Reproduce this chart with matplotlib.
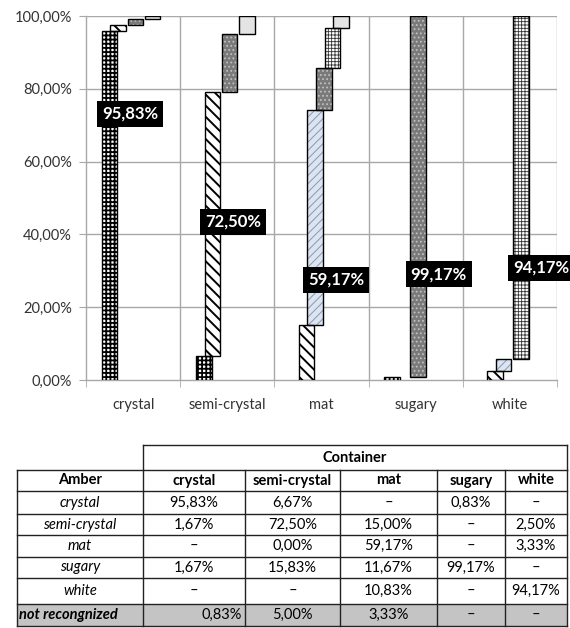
import numpy as np
import matplotlib
matplotlib.use("Agg")
from matplotlib import pyplot as plt

plt.rcParams['font.family'] = ['Lato', 'DejaVu Sans']

# container (columns) and amber classes (rows), values in %
containers = ["crystal", "semi-crystal", "mat", "sugary", "white"]
ambers = ["crystal", "semi-crystal", "mat", "sugary", "white", "not recongnized"]
nan = np.nan
crystal_row = [95.83, 6.67, nan, 0.83, nan]
semi_row = [1.67, 72.50, 15.00, nan, 2.50]
mat_row = [nan, 0.00, 59.17, nan, 3.33]
sugary_row = [1.67, 15.83, 11.67, 99.17, nan]
white_row = [nan, nan, 10.83, nan, 94.17]
notrec_row = [0.83, 5.00, 3.33, nan, nan]
rows = [crystal_row, semi_row, mat_row, sugary_row, white_row, notrec_row]

yticks = [0, 20, 40, 60, 80, 100]
label_y = [73.1, 43.5, 27.5, 29.1, 30.9]  # where the black labels sit

# look of each amber series: face, hatch, hatch colour, hatch lw
styles = [
    ("white", "++++", "black", 1.3),
    ("white", "\\\\\\", "black", 1.4),
    ("#dbe5f1", "////", "#8a97ad", 0.7),
    ("#7a7a7a", "....", "#c0c0c0", 0.8),
    ("white", "+++++", "#333333", 0.6),
    ("#e4e4e4", "", "black", 0.5),
]

W, H = 570, 628
fig = plt.figure(figsize=(W / 100, H / 100), dpi=100)
ax = fig.add_axes([86 / W, (H - 380) / H, 471 / W, 364 / H])

grid_c = "#a8a8a8"
txt_c = "#333333"
step = 0.0913
bw = 0.165

vals = np.nan_to_num(np.array(rows, dtype=float))
bottoms = np.vstack([np.zeros(len(containers)), np.cumsum(vals, axis=0)[:-1]])
xc = np.arange(len(containers)) + 0.5

for j, (face, hatch, hcol, hlw) in enumerate(styles):
    x = xc - 0.021 + (j - 2.5) * step
    h = vals[j]
    m = h > 0
    with plt.rc_context({"hatch.linewidth": hlw}):
        ax.bar(x[m], h[m], bottom=bottoms[j][m], width=bw, color=face,
               hatch=hatch, edgecolor=hcol, linewidth=0, zorder=3)
    ax.bar(x[m], h[m], bottom=bottoms[j][m], width=bw, fill=False,
           edgecolor="black", linewidth=1.0, zorder=4)

# diagonal value labels
for i in range(len(containers)):
    x = xc[i] - 0.021 + (i - 2.5) * step + 0.22
    ax.text(x, label_y[i], f"{rows[i][i]:.2f}".replace(".", ",") + "%",
            color="white", fontsize=12, fontweight="bold", ha="center",
            va="center", zorder=6, clip_on=False,
            bbox=dict(boxstyle="square,pad=0.3", facecolor="black",
                      edgecolor="none"))

ax.set_xlim(0, 5)
ax.set_ylim(0, 100)
ax.set_yticks(yticks)
ax.set_yticklabels([f"{v:.2f}".replace(".", ",") + "%" for v in yticks])
ax.set_xticks(xc)
ax.set_xticklabels(containers)
ax.set_xticks(np.arange(0, 6), minor=True)
ax.tick_params(axis="x", which="major", length=0, pad=13, labelsize=10.5,
               labelcolor=txt_c)
ax.tick_params(axis="x", which="minor", length=5, color=grid_c, direction="out")
ax.tick_params(axis="y", length=5, color=grid_c, pad=5, labelsize=10.5,
               labelcolor=txt_c)
for y in yticks[1:]:
    ax.axhline(y, color=grid_c, lw=1.0, zorder=1)
for x in range(1, 6):
    ax.axvline(x, color=grid_c, lw=1.0, zorder=1)
for s in ["top", "right"]:
    ax.spines[s].set_visible(False)
for s in ["left", "bottom"]:
    ax.spines[s].set_color(grid_c)
    ax.spines[s].set_linewidth(1.0)

# table underneath, drawn in pixel coordinates
tx = fig.add_axes([0, 0, 1, 1], zorder=-1)
tx.set_xlim(0, W)
tx.set_ylim(H, 0)
tx.axis("off")

cols = [17, 143, 245, 340, 437, 505, 567]
rys = [445, 470, 491, 514, 535, 557, 578, 604, 626]
lc = "#222222"

# grey last row
tx.fill_between([cols[0], cols[-1]], rys[-2], rys[-1], color="#c4c4c4", lw=0)

# outlines
tx.plot([cols[1], cols[-1]], [rys[0], rys[0]], color=lc, lw=1.0)
tx.plot([cols[1], cols[1]], [rys[0], rys[1]], color=lc, lw=1.0)
tx.plot([cols[-1], cols[-1]], [rys[0], rys[1]], color=lc, lw=1.0)
for y in rys[1:]:
    tx.plot([cols[0], cols[-1]], [y, y], color=lc, lw=1.0)
for x in cols:
    tx.plot([x, x], [rys[1], rys[-1]], color=lc, lw=1.0)

def cy(r):
    return (rys[r] + rys[r + 1]) / 2

def ccx(c):
    return (cols[c] + cols[c + 1]) / 2

fs = 10.5
tx.text((cols[1] + cols[-1]) / 2, cy(0), "Container", ha="center", va="center",
        fontsize=fs, fontweight="bold", color="black")
tx.text(ccx(0), cy(1), "Amber", ha="center", va="center", fontsize=fs,
        fontweight="bold", color="black")
for c, name in enumerate(containers):
    tx.text(ccx(c + 1), cy(1), name, ha="center", va="center", fontsize=fs,
            fontweight="bold", color="black")

for r, (name, row) in enumerate(zip(ambers, rows)):
    last = r == len(ambers) - 1
    if last:
        tx.text(cols[0] + 2, cy(r + 2), name, ha="left", va="center",
                fontsize=fs, fontweight="bold", style="italic", color="black")
    else:
        tx.text(ccx(0), cy(r + 2), name, ha="center", va="center",
                fontsize=fs, style="italic", color="black")
    for c, v in enumerate(row):
        s = "–" if np.isnan(v) else f"{v:.2f}".replace(".", ",") + "%"
        if last and c == 0:
            tx.text(cols[2] - 3, cy(r + 2), s, ha="right", va="center",
                    fontsize=fs, color="black")
        else:
            tx.text(ccx(c + 1), cy(r + 2), s, ha="center", va="center",
                    fontsize=fs, color="black")

fig.savefig("out.png", dpi=100)
